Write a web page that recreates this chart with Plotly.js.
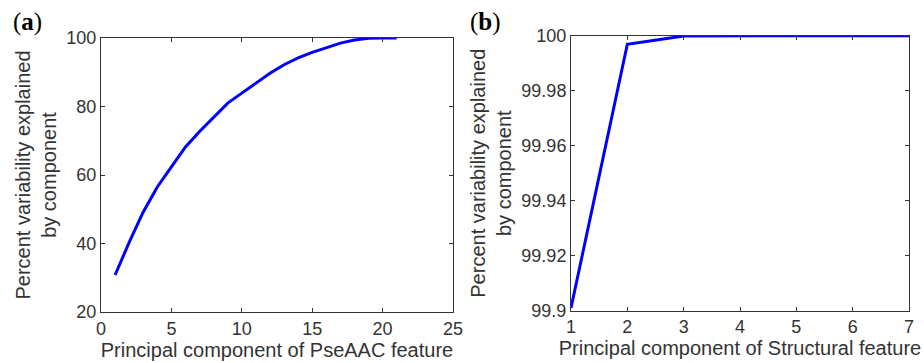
<!DOCTYPE html>
<html>
<head>
<meta charset="utf-8">
<script src="https://cdn.plot.ly/plotly-3.0.1.min.js"></script>
<style>html,body{margin:0;padding:0;background:#fff;}#chart{width:924px;height:363px;}</style>
</head>
<body>
<div id="chart"></div>
<script>
// Panel (a): PseAAC feature
const pseComponents = [1,2,3,4,5,6,7,8,9,10,11,12,13,14,15,16,17,18,19,20,21];
const pseExplained = [30.8,40.3,49.2,56.5,62.4,68.2,72.7,77.0,81.0,83.9,86.8,89.7,92.2,94.2,95.8,97.2,98.5,99.4,99.9,100,100];
// Panel (b): Structural feature
const structComponents = [1,2,3,4,5,6,7];
const structExplained = [99.901,99.9969,99.9999,100,100,100,100];

const xTitleA = "Principal component of PseAAC feature";
const xTitleB = "Principal component of Structural feature";
const yTitle = "Percent variability explained<br>by component";

const W = 924, H = 363;
const txt = "#333333";
const fontFam = "Liberation Sans, Arial, sans-serif";

function axisBase() {
  return {
    showline: true, linecolor: "#333333", linewidth: 1, mirror: "ticks",
    ticks: "inside", ticklen: 4, tickcolor: "#333333", tickwidth: 1,
    showgrid: false, zeroline: false, automargin: false,
    tickfont: {family: fontFam, size: 18, color: txt}
  };
}

const traces = [
  {x: pseComponents, y: pseExplained, type: "scatter", mode: "lines",
   line: {color: "#0000ff", width: 3}, xaxis: "x", yaxis: "y", hoverinfo: "skip"},
  {x: structComponents, y: structExplained, type: "scatter", mode: "lines",
   line: {color: "#0000ff", width: 3}, xaxis: "x2", yaxis: "y2", hoverinfo: "skip"}
];

const layout = {
  width: W, height: H,
  margin: {l: 0, r: 0, t: 0, b: 0},
  paper_bgcolor: "#ffffff", plot_bgcolor: "#ffffff",
  showlegend: false,
  xaxis: Object.assign(axisBase(), {
    domain: [101/W, 453/W], range: [0, 25], tickvals: [0,5,10,15,20,25],
    anchor: "y",
    title: {text: xTitleA, font: {family: fontFam, size: 20, color: txt}, standoff: 3}
  }),
  yaxis: Object.assign(axisBase(), {
    domain: [1 - 312/H, 1 - 38/H], range: [20, 100], tickvals: [20,40,60,80,100],
    anchor: "x",
    title: {text: yTitle, font: {family: fontFam, size: 20, color: txt}, standoff: 4}
  }),
  xaxis2: Object.assign(axisBase(), {
    domain: [571/W, 909/W], range: [1, 7], tickvals: [1,2,3,4,5,6,7],
    anchor: "y2",
    title: {text: xTitleB, font: {family: fontFam, size: 20, color: txt}, standoff: 3}
  }),
  yaxis2: Object.assign(axisBase(), {
    domain: [1 - 310.7/H, 1 - 35.7/H], range: [99.9, 100],
    tickvals: [99.9,99.92,99.94,99.96,99.98,100],
    ticktext: ["99.9","99.92","99.94","99.96","99.98","100"],
    anchor: "x2",
    title: {text: yTitle, font: {family: fontFam, size: 20, color: txt}, standoff: 4}
  }),
  annotations: [
    {text: "(<b>a</b>)", xref: "paper", yref: "paper", x: 11/W, y: 1 - 6/H,
     xanchor: "left", yanchor: "top", showarrow: false,
     font: {family: "Liberation Serif, serif", size: 25, color: "#000"}},
    {text: "(<b>b</b>)", xref: "paper", yref: "paper", x: 468/W, y: 1 - 6/H,
     xanchor: "left", yanchor: "top", showarrow: false,
     font: {family: "Liberation Serif, serif", size: 25, color: "#000"}}
  ]
};

Plotly.newPlot("chart", traces, layout, {displayModeBar: false, staticPlot: true});
</script>
</body>
</html>
